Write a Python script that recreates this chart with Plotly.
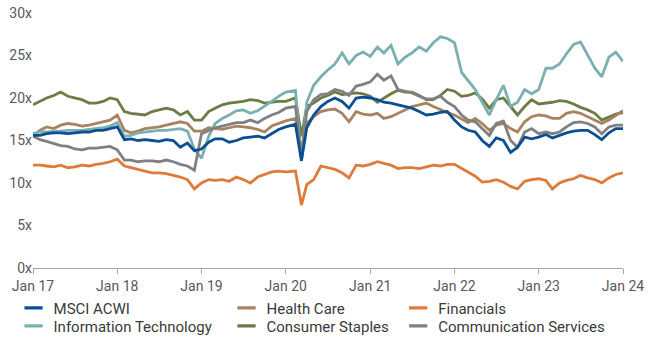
import pandas as pd
import plotly.graph_objects as go

# Monthly observation dates (Feb/Mar 2020 moved to the pre-crash peak and the trough)
dates = list(pd.date_range("2017-01-01", "2024-01-01", freq="MS"))
dates[37] = pd.Timestamp("2020-02-12")
dates[38] = pd.Timestamp("2020-03-09")

msci_acwi = [
    15.6, 15.6, 15.8, 15.9, 15.9, 15.8, 15.9, 16.0, 16.0, 16.2, 16.2, 16.4,
    16.6, 15.1, 15.2, 15.0, 15.1, 15.0, 14.9, 15.1, 15.0, 14.2, 14.7, 13.8,
    14.0, 14.8, 15.2, 15.2, 14.8, 15.0, 15.3, 15.4, 15.5, 15.3, 15.8, 16.3,
    16.6, 16.9, 12.6, 16.5, 18.0, 19.0, 19.6, 20.0, 19.6, 18.8, 20.0, 20.1,
    20.0, 19.8, 19.5, 19.4, 19.2, 19.0, 18.8, 18.4, 18.0, 18.1, 18.3, 18.4,
    17.4, 16.6, 16.2, 16.0, 15.0, 14.3, 15.3, 15.0, 13.6, 14.2, 15.4, 15.2,
    15.4, 15.7, 15.3, 15.6, 15.9, 16.1, 16.2, 16.2, 15.7, 15.1, 15.9, 16.4,
    16.4,
]
info_tech = [
    15.8, 16.0, 16.0, 16.1, 16.1, 16.2, 16.2, 16.2, 16.3, 16.4, 16.5, 16.7,
    17.1, 15.5, 15.6, 15.9, 16.0, 16.1, 16.2, 16.2, 16.3, 16.4, 16.1, 14.0,
    12.9, 15.5, 17.0, 17.6, 18.0, 18.5, 18.6, 18.2, 18.5, 19.0, 19.6, 20.2,
    20.7, 20.9, 12.6, 19.5, 21.5, 22.5, 23.3, 24.0, 25.3, 24.0, 25.0, 25.4,
    24.9, 26.0, 25.3, 26.2, 24.0, 24.8, 25.3, 26.0, 25.5, 26.5, 27.2, 27.0,
    26.5, 23.0, 22.0, 21.0, 19.5, 18.0, 19.8, 21.5, 19.0, 19.5, 21.0, 20.5,
    21.0, 23.5, 23.5, 24.0, 25.2, 26.3, 26.6, 25.0, 23.5, 22.5, 24.8, 25.4,
    24.3,
]
health_care = [
    15.6, 16.2, 16.6, 16.4, 16.8, 17.0, 16.9, 16.7, 16.8, 17.0, 17.2, 17.4,
    18.0, 16.2, 15.9, 16.1, 16.4, 16.5, 16.6, 16.8, 17.0, 17.2, 17.0, 16.1,
    16.1, 16.5, 16.4, 16.3, 16.5, 16.7, 16.6, 16.5, 16.3, 16.0, 16.7, 17.0,
    17.3, 17.6, 13.9, 17.0, 17.8, 18.4, 18.6, 18.7, 18.2, 17.2, 18.4, 18.1,
    18.0, 18.2, 17.6, 17.8, 18.2, 18.6, 19.0, 19.2, 19.4, 19.0, 18.6, 18.3,
    18.0, 17.5, 17.1, 17.6, 17.0, 16.2, 16.8, 17.0, 16.4, 16.0, 17.2, 17.8,
    18.0, 17.9, 17.6, 17.6, 18.2, 18.4, 18.2, 17.8, 17.4, 17.0, 17.4, 17.9,
    18.5,
]
consumer_staples = [
    19.2, 19.6, 20.0, 20.3, 20.7, 20.2, 20.0, 19.8, 19.4, 19.4, 19.6, 20.0,
    19.8, 18.4, 18.2, 18.1, 18.0, 18.4, 18.6, 18.8, 18.6, 18.0, 18.4, 17.4,
    17.4, 18.4, 18.8, 19.2, 19.4, 19.5, 19.6, 19.8, 19.7, 19.4, 19.5, 19.6,
    19.6, 20.0, 15.5, 19.0, 19.4, 20.0, 20.3, 20.7, 20.4, 20.5, 20.6, 20.5,
    20.2, 19.5, 20.0, 20.5, 20.9, 20.7, 20.7, 20.3, 19.8, 19.8, 20.3, 21.0,
    20.8, 20.2, 20.3, 20.6, 19.9, 18.8, 19.8, 20.0, 19.0, 18.0, 19.0, 19.8,
    19.3, 19.4, 19.5, 19.7, 19.6, 19.3, 18.9, 18.6, 18.2, 17.4, 17.8, 18.1,
    18.3,
]
financials = [
    12.1, 12.1, 12.0, 11.9, 12.1, 11.8, 11.9, 12.1, 12.0, 12.2, 12.3, 12.5,
    12.8, 12.0, 11.8, 11.6, 11.4, 11.2, 11.2, 11.1, 10.9, 10.7, 10.4, 9.3,
    10.0, 10.4, 10.3, 10.4, 10.2, 10.7, 10.4, 10.0, 10.7, 11.0, 11.3, 11.4,
    11.3, 11.4, 7.4, 9.8, 10.4, 12.0, 11.8, 11.6, 11.2, 10.6, 12.1, 12.0,
    12.2, 12.5, 12.3, 12.1, 11.7, 11.8, 11.8, 11.7, 11.9, 12.1, 12.0, 12.2,
    12.2, 11.7, 11.3, 10.8, 10.1, 10.2, 10.4, 10.1, 9.6, 9.3, 10.2, 10.4,
    10.5, 10.3, 9.3, 10.0, 10.3, 10.5, 10.9, 10.6, 10.4, 10.0, 10.6, 11.0,
    11.2,
]
comm_services = [
    15.5, 15.1, 14.9, 14.6, 14.4, 14.3, 14.0, 13.9, 14.1, 14.1, 14.2, 14.3,
    13.9, 12.7, 12.7, 12.5, 12.6, 12.6, 12.5, 12.7, 12.5, 12.2, 12.0, 11.5,
    15.8, 16.2, 16.5, 16.7, 16.9, 17.1, 17.1, 17.4, 17.1, 17.6, 18.0, 18.3,
    18.8, 19.0, 13.1, 18.4, 19.8, 20.4, 20.5, 21.0, 20.8, 20.3, 21.4, 21.6,
    21.9, 22.8, 22.1, 22.6, 21.0, 20.8, 20.6, 20.2, 19.9, 19.9, 20.2, 19.5,
    19.0, 18.0, 17.4, 17.2, 16.4, 15.6, 17.0, 17.3, 15.0, 14.2, 16.0, 16.4,
    15.8, 16.0, 15.8, 16.0, 16.6, 17.1, 17.2, 17.0, 16.6, 15.8, 16.6, 16.8,
    16.8,
]

tick_years = list(range(2017, 2025))
tick_labels = ["Jan 17", "Jan 18", "Jan 19", "Jan 20", "Jan 21", "Jan 22", "Jan 23", "Jan 24"]

COLORS = {
    "MSCI ACWI": "#0b4f93",
    "Information Technology": "#7ab0b2",
    "Health Care": "#a8835f",
    "Consumer Staples": "#6b7c45",
    "Financials": "#df7b3a",
    "Communication Services": "#808080",
}
VALUES = {
    "MSCI ACWI": msci_acwi,
    "Information Technology": info_tech,
    "Health Care": health_care,
    "Consumer Staples": consumer_staples,
    "Financials": financials,
    "Communication Services": comm_services,
}
draw_order = ["Financials", "Consumer Staples", "Health Care",
              "Information Technology", "Communication Services", "MSCI ACWI"]
# legend layout: (name, legend id, column x [paper], row y [container])
legend_layout = [
    ("MSCI ACWI", "legend", -0.033, 0.094),
    ("Information Technology", "legend2", -0.033, 0.041),
    ("Health Care", "legend3", 0.328, 0.094),
    ("Consumer Staples", "legend4", 0.328, 0.041),
    ("Financials", "legend5", 0.619, 0.094),
    ("Communication Services", "legend6", 0.619, 0.041),
]

FONT = "Roboto, Arial, sans-serif"

fig = go.Figure()
for name in draw_order:
    fig.add_trace(go.Scatter(
        x=dates, y=VALUES[name], name=name, mode="lines",
        line=dict(color=COLORS[name], width=2.8),
        showlegend=False,
    ))

legends = {}
for name, leg, lx, ly in legend_layout:
    fig.add_trace(go.Scatter(
        x=[dates[0]], y=[None], name=name, mode="markers",
        marker=dict(symbol="line-ew", size=13, color=COLORS[name],
                    line=dict(color=COLORS[name], width=3.2)),
        legend=leg, showlegend=True, hoverinfo="skip",
    ))
    legends[leg] = dict(
        x=lx, y=ly, xref="paper", yref="container",
        xanchor="left", yanchor="middle",
        font=dict(family=FONT, size=15, color="#3a3a3a"),
        bgcolor="rgba(0,0,0,0)", itemwidth=30,
    )

fig.update_layout(
    width=650, height=340,
    margin=dict(l=33, r=27, t=13, b=72),
    paper_bgcolor="white", plot_bgcolor="white",
    font=dict(family=FONT, size=14, color="#595959"),
    showlegend=True,
    **legends,
    xaxis=dict(
        type="date", automargin=False,
        range=[f"{tick_years[0]}-01-01", f"{tick_years[-1]}-01-01"],
        tickvals=[f"{y}-01-01" for y in tick_years],
        ticktext=tick_labels,
        showgrid=False, zeroline=False,
        showline=True, linecolor="#a6a6a6", linewidth=1,
        ticks="outside", ticklen=5, tickcolor="#a6a6a6",
        tickfont=dict(family=FONT, size=14, color="#595959"),
    ),
    yaxis=dict(
        range=[0, 30], dtick=5, ticksuffix="x", automargin=False,
        showgrid=False, zeroline=False, showline=False,
        tickfont=dict(family=FONT, size=14, color="#595959"),
    ),
)

fig.write_html("out.html")
